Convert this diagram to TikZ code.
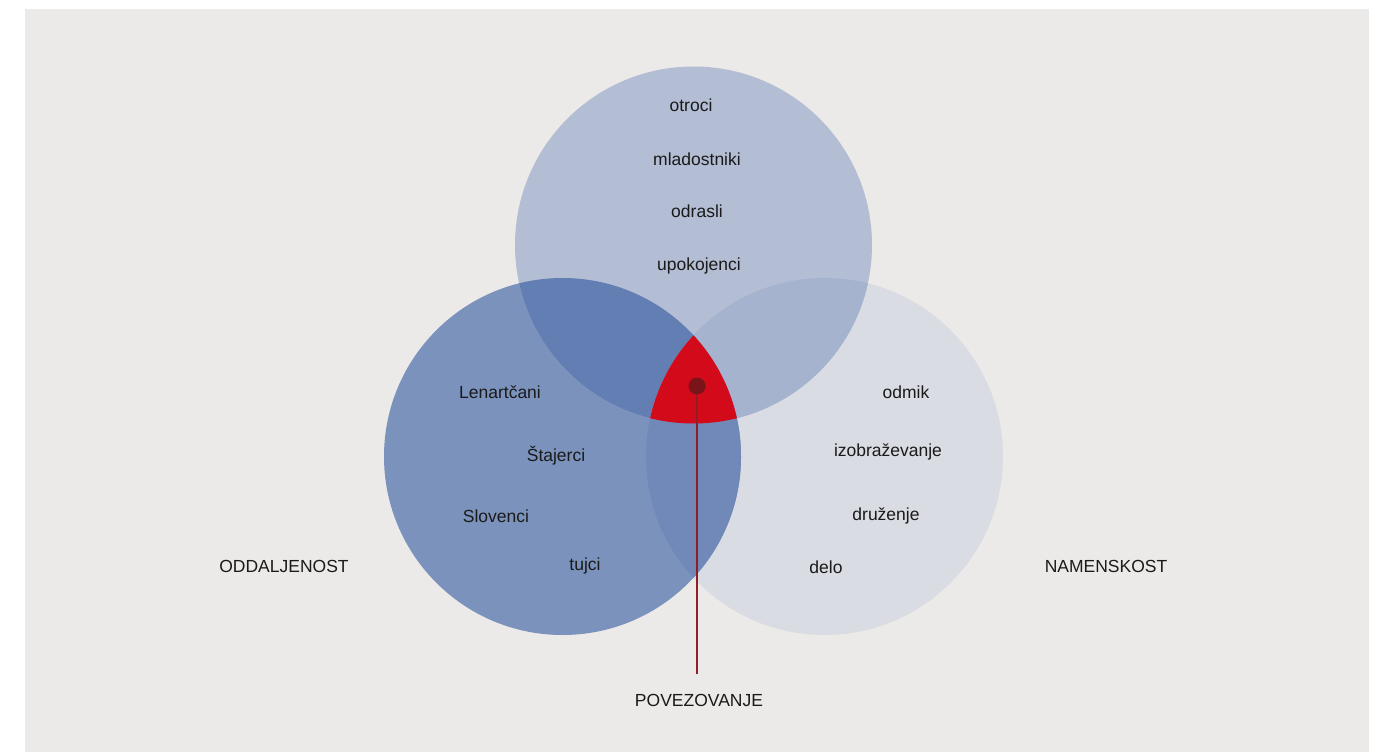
\documentclass[tikz,border=0pt]{standalone}
\usepackage{fontspec}
\setmainfont{Liberation Sans}
\definecolor{bgpaper}{HTML}{ECEAE8}
\definecolor{ctop}{HTML}{B3BDD4}
\definecolor{cleft}{HTML}{7B92BD}
\definecolor{cright}{HTML}{D9DCE2}
\definecolor{ctl}{HTML}{627EB3}
\definecolor{ctr}{HTML}{A6B3CF}
\definecolor{clr}{HTML}{7089B9}
\definecolor{cred}{HTML}{D20A1A}
\definecolor{cdot}{HTML}{7A1419}
\definecolor{cline}{HTML}{8E1F26}
\definecolor{ctext}{HTML}{1A1A1A}
\begin{document}
\begin{tikzpicture}[x=1pt,y=-1pt,
  lbl/.style={text=ctext,font=\fontsize{17.5}{19}\selectfont,inner sep=0pt}]
\useasboundingbox (0,0) rectangle (1381,752);
\fill[white] (0,0) rectangle (1381,752);
\fill[bgpaper] (25,9) rectangle (1369,752);
\def\R{178.5}
\coordinate (ct) at (693.5,245);
\coordinate (cl) at (562.5,456.5);
\coordinate (cr) at (824.5,456.5);
% circles
\fill[cright] (cr) circle (\R);
\fill[cleft] (cl) circle (\R);
\fill[ctop] (ct) circle (\R);
% pairwise overlaps
\begin{scope}\clip (ct) circle (\R); \fill[ctl] (cl) circle (\R);\end{scope}
\begin{scope}\clip (ct) circle (\R); \fill[ctr] (cr) circle (\R);\end{scope}
\begin{scope}\clip (cl) circle (\R); \fill[clr] (cr) circle (\R);\end{scope}
% triple overlap
\begin{scope}\clip (ct) circle (\R); \clip (cl) circle (\R); \fill[cred] (cr) circle (\R);\end{scope}
% connector
\coordinate (dotc) at (697,386);
\coordinate (lineend) at (697,674);
\draw[cline,line width=1.1pt] (dotc) -- (lineend);
\node[circle,fill=cdot,minimum size=17pt,inner sep=0pt] (dot) at (dotc) {};
% labels
\node[lbl] (t1) at (691,105) {otroci};
\node[lbl] (t2) at (697,159) {mladostniki};
\node[lbl] (t3) at (697,211) {odrasli};
\node[lbl] (t4) at (699,266) {upokojenci};
\node[lbl] (l1) at (500,392) {Lenartčani};
\node[lbl] (l2) at (556,456) {Štajerci};
\node[lbl] (l3) at (496,516) {Slovenci};
\node[lbl] (l4) at (585,566) {tujci};
\node[lbl] (r1) at (906,392) {odmik};
\node[lbl] (r2) at (888,452) {izobraževanje};
\node[lbl] (r3) at (886,516) {druženje};
\node[lbl] (r4) at (826,567) {delo};
\node[lbl] (odd) at (284,566) {ODDALJENOST};
\node[lbl] (nam) at (1106,566) {NAMENSKOST};
\node[lbl] (pov) at (699,700) {POVEZOVANJE};
\end{tikzpicture}
\end{document}
